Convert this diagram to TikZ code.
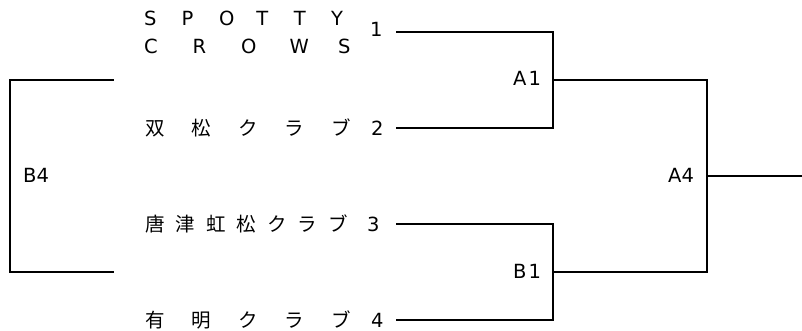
\documentclass[tikz,border=0pt]{standalone}
\usepackage{fontspec}
\setmainfont{DejaVu Sans}
\newfontfamily\cjk{Noto Sans CJK JP}
\newcommand{\pch}[2]{\makebox[#1][l]{#2}}
\begin{document}
\begin{tikzpicture}[x=1pt,y=-1pt,
  lbl/.style={inner sep=0pt,anchor=west,font=\fontsize{19.5}{19.5}\selectfont},
  jlbl/.style={inner sep=0pt,anchor=west,font=\cjk\fontsize{19.5}{19.5}\selectfont},
  wire/.style={line width=1.4pt,line cap=rect}]
\useasboundingbox (0,0) rectangle (802,331);
% team labels
\node[lbl] (t1a) at (144,18) {\pch{37.4pt}{S}\pch{37.4pt}{P}\pch{37.4pt}{O}\pch{37.4pt}{T}\pch{37.4pt}{T}Y};
\node[lbl] (t1b) at (144,46) {\pch{48.5pt}{C}\pch{48.5pt}{R}\pch{48.5pt}{O}\pch{48.5pt}{W}S};
\node[lbl] (n1) at (370,29) {1};
\node[jlbl] (t2) at (145,128) {\pch{46.5pt}{双}\pch{46.5pt}{松}\pch{46.5pt}{ク}\pch{46.5pt}{ラ}ブ};
\node[lbl] (n2) at (371,128) {2};
\node[jlbl] (t3) at (145,224) {\pch{30.5pt}{唐}\pch{30.5pt}{津}\pch{30.5pt}{虹}\pch{30.5pt}{松}\pch{30.5pt}{ク}\pch{30.5pt}{ラ}ブ};
\node[lbl] (n3) at (367,224) {3};
\node[jlbl] (t4) at (145,320) {\pch{46.5pt}{有}\pch{46.5pt}{明}\pch{46.5pt}{ク}\pch{46.5pt}{ラ}ブ};
\node[lbl] (n4) at (371,320) {4};
% match labels
\node[lbl] (A1) at (513,78) {A\hspace{2pt}1};
\node[lbl] (B1) at (513,271) {B\hspace{2pt}1};
\node[lbl] (A4) at (668,175) {A4};
\node[lbl] (B4) at (23,175) {B4};
% coordinates
\coordinate (s1) at (397,32);
\coordinate (s2) at (397,128);
\coordinate (s3) at (397,224);
\coordinate (s4) at (397,320);
\coordinate (j1) at (553,32);
\coordinate (j2) at (553,128);
\coordinate (j3) at (553,224);
\coordinate (j4) at (553,320);
\coordinate (mA1) at (553,80);
\coordinate (mB1) at (553,272);
\coordinate (k1) at (707,80);
\coordinate (k2) at (707,272);
\coordinate (mA4) at (707,176);
\coordinate (fin) at (802,176);
\coordinate (l1) at (113,80);
\coordinate (l2) at (10,80);
\coordinate (l3) at (10,272);
\coordinate (l4) at (113,272);
% wires
\draw[wire] (s1) -- (j1) -- (j2) -- (s2);
\draw[wire] (s3) -- (j3) -- (j4) -- (s4);
\draw[wire] (mA1) -- (k1) -- (k2) -- (mB1);
\draw[wire] (mA4) -- (fin);
\draw[wire] (l1) -- (l2) -- (l3) -- (l4);
\end{tikzpicture}
\end{document}
